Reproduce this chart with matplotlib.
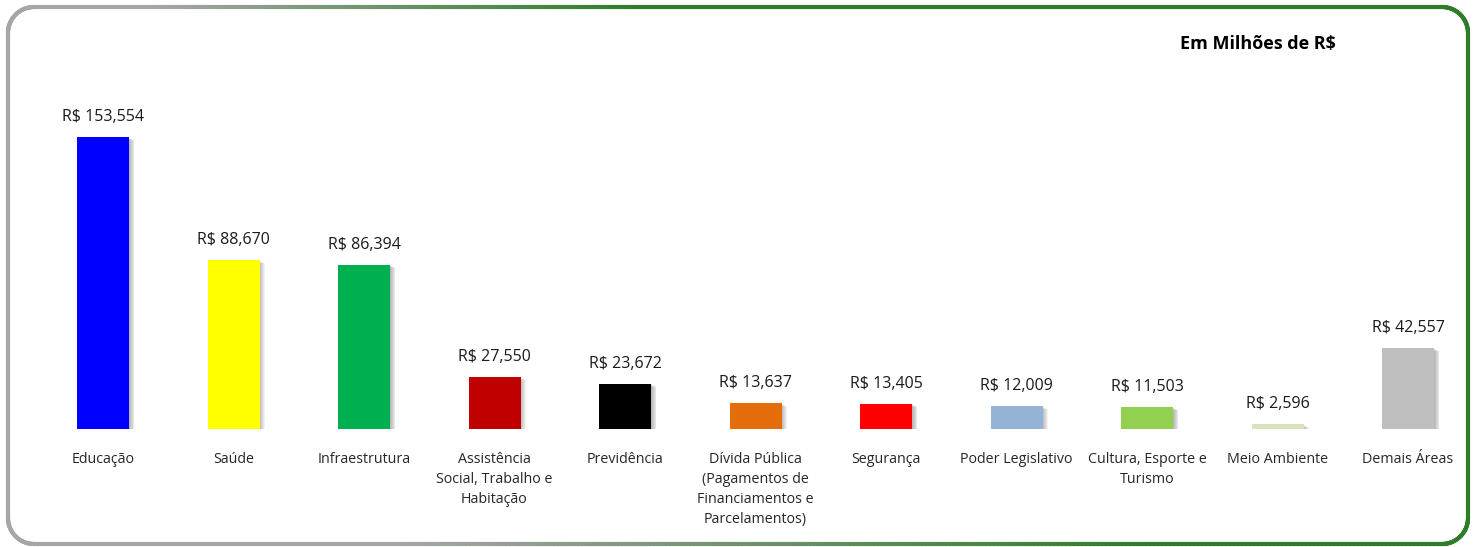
import numpy as np
import matplotlib
matplotlib.use("Agg")
import matplotlib.pyplot as plt
from matplotlib.collections import LineCollection
from matplotlib.transforms import ScaledTranslation
from matplotlib.colors import to_rgb

plt.rcParams['font.family'] = ['Open Sans', 'DejaVu Sans']

categories = ["Educação", "Saúde", "Infraestrutura",
              "Assistência\nSocial, Trabalho e\nHabitação", "Previdência",
              "Dívida Pública\n(Pagamentos de\nFinanciamentos e\nParcelamentos)",
              "Segurança", "Poder Legislativo", "Cultura, Esporte e\nTurismo",
              "Meio Ambiente", "Demais Áreas"]
values = [153554, 88670, 86394, 27550, 23672, 13637, 13405, 12009, 11503, 2596, 42557]
bar_colors = ["#0000ff", "#ffff00", "#00b050", "#c00000", "#000000", "#e46c0a",
              "#ff0000", "#95b3d7", "#92d050", "#d7e4bd", "#bfbfbf"]
title = "Em Milhões de R$"

W, H = 1473, 547
fig = plt.figure(figsize=(W / 100, H / 100), dpi=100)

# axes placed in pixel terms: baseline at y=429, bar centres 103 + 130.5*i
step = 130.5
x0 = 103 - 0.5 * step
x1 = 103 + 10.4 * step
ymax = 210000
px_per_val = 292 / 153554
top_px = 429 - ymax * px_per_val
ax = fig.add_axes([x0 / W, (H - 429) / H, (x1 - x0) / W, (429 - top_px) / H])
ax.set_xlim(-0.5, 10.4)
ax.set_ylim(0, ymax)
ax.axis('off')

x = np.arange(len(values))
bw = 52 / step

# soft shadow to the right of each bar
for k in range(1, 7):
    off = ScaledTranslation(k * 0.9 / 100, -k * 0.5 / 100, fig.dpi_scale_trans)
    ax.bar(x, values, bw, color='black', alpha=0.05, linewidth=0,
           transform=ax.transData + off, zorder=1)
ax.bar(x, values, bw, color=bar_colors, linewidth=0, zorder=2)

for xi, v in zip(x, values):
    ax.annotate(f"R$ {v:,}", (xi, v), xytext=(0, 12), textcoords='offset pixels',
                ha='center', va='bottom', fontsize=11.5, color='#1a1a1a')
for xi, c in zip(x, categories):
    ax.annotate(c, (xi, 0), xytext=(0, -23), textcoords='offset pixels',
                ha='center', va='top', fontsize=10.3, color='#262626',
                linespacing=1.45)

fig.text(1258 / W, 1 - 44 / H, title, ha='center', va='center',
         fontsize=13, fontweight='bold', color='black')

# rounded border with diagonal grey -> green gradient
L, R, T, B, r = 8, 1468, 7, 544, 26
pts = []
def arc(cx, cy, a0, a1):
    for a in np.linspace(a0, a1, 30):
        pts.append((cx + r * np.cos(a), cy + r * np.sin(a)))
arc(R - r, T + r, -np.pi / 2, 0)
arc(R - r, B - r, 0, np.pi / 2)
arc(L + r, B - r, np.pi / 2, np.pi)
arc(L + r, T + r, np.pi, 1.5 * np.pi)
pts.append(pts[0])
pts = np.array(pts)
dense = []
for a, b in zip(pts[:-1], pts[1:]):
    n = max(2, int(np.hypot(*(b - a)) / 4))
    for t in np.linspace(0, 1, n, endpoint=False):
        dense.append(a + (b - a) * t)
dense.append(pts[-1])
dense = np.array(dense)
segs = np.stack([dense[:-1], dense[1:]], axis=1)
mid = segs.mean(axis=1)
t = np.clip((mid[:, 0] - 150 - 0.45 * mid[:, 1]) / (480 + 0.5 * mid[:, 1]), 0, 1)
grey = np.array(to_rgb("#a6a6a6"))
green = np.array(to_rgb("#2f7d2a"))
cols = grey[None, :] * (1 - t[:, None]) + green[None, :] * t[:, None]
segs_fig = segs.copy()
segs_fig[:, :, 0] /= W
segs_fig[:, :, 1] = 1 - segs_fig[:, :, 1] / H
lc = LineCollection(segs_fig, colors=cols, linewidths=3.0, transform=fig.transFigure,
                    capstyle='round')
fig.add_artist(lc)

fig.savefig("out.png", dpi=100)
